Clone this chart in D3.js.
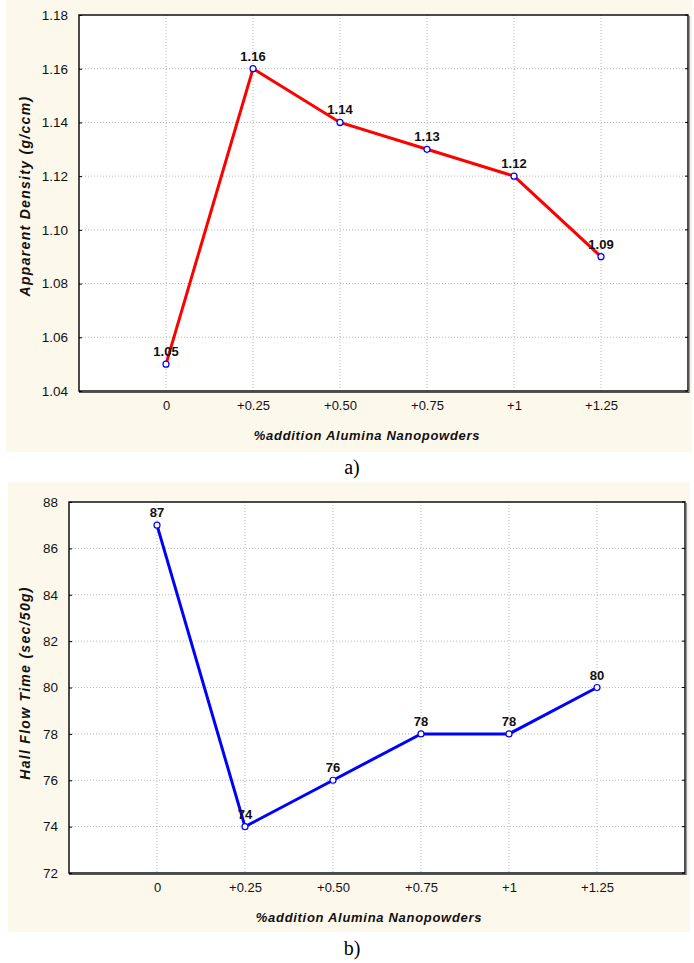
<!DOCTYPE html>
<html>
<head>
<meta charset="utf-8">
<script src="https://cdn.jsdelivr.net/npm/d3@7"></script>
<style>
  html, body { margin: 0; padding: 0; background: #ffffff; }
  svg { display: block; }
</style>
</head>
<body>
<svg id="chart" width="694" height="963" font-family="'Liberation Sans', Arial, sans-serif"></svg>
<script>
// Shared categories: % addition of alumina nanopowders
const categories = ["0", "+0.25", "+0.50", "+0.75", "+1", "+1.25"];

// Panel a) apparent density (g/ccm)
const densityValues = [1.05, 1.16, 1.14, 1.13, 1.12, 1.09];
const densityTicks = [1.04, 1.06, 1.08, 1.10, 1.12, 1.14, 1.16, 1.18];
const densityTickLabels = ["1.04", "1.06", "1.08", "1.10", "1.12", "1.14", "1.16", "1.18"];
const densityLabels = ["1.05", "1.16", "1.14", "1.13", "1.12", "1.09"];

// Panel b) Hall flow time (sec/50g)
const flowValues = [87, 74, 76, 78, 78, 80];
const flowTicks = [72, 74, 76, 78, 80, 82, 84, 86, 88];
const flowTickLabels = ["72", "74", "76", "78", "80", "82", "84", "86", "88"];
const flowLabels = ["87", "74", "76", "78", "78", "80"];

const svg = d3.select("#chart");
const SANS = "'Liberation Sans', Arial, sans-serif";

function drawPanel(cfg) {
  const g = svg.append("g");

  // cream background panel
  g.append("rect")
    .attr("x", cfg.panel[0]).attr("y", cfg.panel[1])
    .attr("width", cfg.panel[2]).attr("height", cfg.panel[3])
    .attr("fill", "#fdf8ec");

  const x = d3.scalePoint().domain(categories).range([cfg.left, cfg.right]).padding(1);
  const y = d3.scaleLinear().domain(cfg.domain).range([cfg.bottom, cfg.top]);

  // plot area
  g.append("rect")
    .attr("x", cfg.left).attr("y", cfg.top)
    .attr("width", cfg.right - cfg.left).attr("height", cfg.bottom - cfg.top)
    .attr("fill", "#ffffff");

  // dotted grid
  g.append("g").selectAll("line").data(cfg.ticks.slice(1, -1)).join("line")
    .attr("x1", cfg.left).attr("x2", cfg.right)
    .attr("y1", d => y(d)).attr("y2", d => y(d))
    .attr("stroke", "#b8b8b8").attr("stroke-width", 1).attr("stroke-dasharray", "1,2");
  g.append("g").selectAll("line").data(categories).join("line")
    .attr("x1", d => x(d)).attr("x2", d => x(d))
    .attr("y1", cfg.top).attr("y2", cfg.bottom)
    .attr("stroke", "#b8b8b8").attr("stroke-width", 1).attr("stroke-dasharray", "1,2");

  // left axis
  const yAxis = d3.axisLeft(y).tickValues(cfg.ticks)
    .tickFormat((d, i) => cfg.tickLabels[i]).tickSize(3).tickPadding(8);
  const ya = g.append("g").attr("transform", `translate(${cfg.left},0)`).call(yAxis);
  ya.select(".domain").remove();
  ya.selectAll(".tick line").attr("x2", 3).attr("stroke", "#000");
  ya.selectAll("text").attr("font-size", 13.5).attr("fill", "#111").attr("font-family", SANS);

  // right-side inner ticks
  g.append("g").selectAll("line").data(cfg.ticks).join("line")
    .attr("x1", cfg.right - 3).attr("x2", cfg.right)
    .attr("y1", d => y(d)).attr("y2", d => y(d))
    .attr("stroke", "#000");

  // bottom axis
  const xAxis = d3.axisBottom(x).tickSize(0).tickPadding(10);
  const xa = g.append("g").attr("transform", `translate(0,${cfg.bottom})`).call(xAxis);
  xa.select(".domain").remove();
  xa.selectAll("text").attr("font-size", 13).attr("fill", "#111").attr("font-family", SANS);

  // frame
  g.append("rect")
    .attr("x", cfg.left).attr("y", cfg.top)
    .attr("width", cfg.right - cfg.left).attr("height", cfg.bottom - cfg.top)
    .attr("fill", "none").attr("stroke", "#000").attr("stroke-width", 1.4);
  g.append("line")
    .attr("x1", cfg.left).attr("x2", cfg.right + 2)
    .attr("y1", cfg.bottom + 1.5).attr("y2", cfg.bottom + 1.5)
    .attr("stroke", "#555").attr("stroke-width", 1.2);
  g.append("line")
    .attr("x1", cfg.right + 1.5).attr("x2", cfg.right + 1.5)
    .attr("y1", cfg.top + 1).attr("y2", cfg.bottom + 2)
    .attr("stroke", "#9a9a9a").attr("stroke-width", 1.2);

  // data line
  const line = d3.line().x((d, i) => x(categories[i])).y(d => y(d));
  g.append("path").datum(cfg.values)
    .attr("d", line).attr("fill", "none")
    .attr("stroke", cfg.color).attr("stroke-width", 3).attr("stroke-linejoin", "miter");

  // markers
  g.append("g").selectAll("circle").data(cfg.values).join("circle")
    .attr("cx", (d, i) => x(categories[i])).attr("cy", d => y(d))
    .attr("r", 3).attr("fill", "#fff").attr("stroke", "#0000ff").attr("stroke-width", 1.2);

  // value labels
  g.append("g").selectAll("text").data(cfg.values).join("text")
    .attr("x", (d, i) => x(categories[i])).attr("y", d => y(d) - 8)
    .attr("text-anchor", "middle").attr("font-size", 13).attr("font-weight", "bold")
    .attr("fill", "#111")
    .text((d, i) => cfg.labels[i]);

  // axis titles
  g.append("text")
    .attr("x", cfg.xTitleX).attr("y", cfg.bottom + 49)
    .attr("text-anchor", "middle").attr("font-size", 13)
    .attr("font-weight", "bold").attr("font-style", "italic")
    .attr("letter-spacing", "0.7px").attr("fill", "#111")
    .text("%addition Alumina Nanopowders");
  g.append("text")
    .attr("transform", `translate(30,${cfg.yTitleCenter}) rotate(-90)`)
    .attr("text-anchor", "middle").attr("font-size", 14)
    .attr("font-weight", "bold").attr("font-style", "italic")
    .attr("letter-spacing", "1.3px").attr("fill", "#111")
    .text(cfg.yTitle);

  // caption
  svg.append("text")
    .attr("x", cfg.captionX).attr("y", cfg.captionY)
    .attr("text-anchor", "middle")
    .style("font-family", "'Liberation Serif', 'Times New Roman', serif")
    .attr("font-size", 20).attr("fill", "#000")
    .text(cfg.caption);
}

drawPanel({
  panel: [6, 0, 686, 452],
  left: 79, right: 688, top: 15, bottom: 391,
  domain: [1.04, 1.18], ticks: densityTicks, tickLabels: densityTickLabels,
  values: densityValues, labels: densityLabels, color: "#ff0000",
  xTitleX: 367,
  yTitle: "Apparent Density (g/ccm)", yTitleCenter: 196,
  caption: "a)", captionX: 352, captionY: 474
});

drawPanel({
  panel: [8, 482, 682, 450],
  left: 69, right: 685, top: 502, bottom: 873,
  domain: [72, 88], ticks: flowTicks, tickLabels: flowTickLabels,
  values: flowValues, labels: flowLabels, color: "#0000ff",
  xTitleX: 369,
  yTitle: "Hall Flow Time (sec/50g)", yTitleCenter: 683,
  caption: "b)", captionX: 352, captionY: 955
});
</script>
</body>
</html>
